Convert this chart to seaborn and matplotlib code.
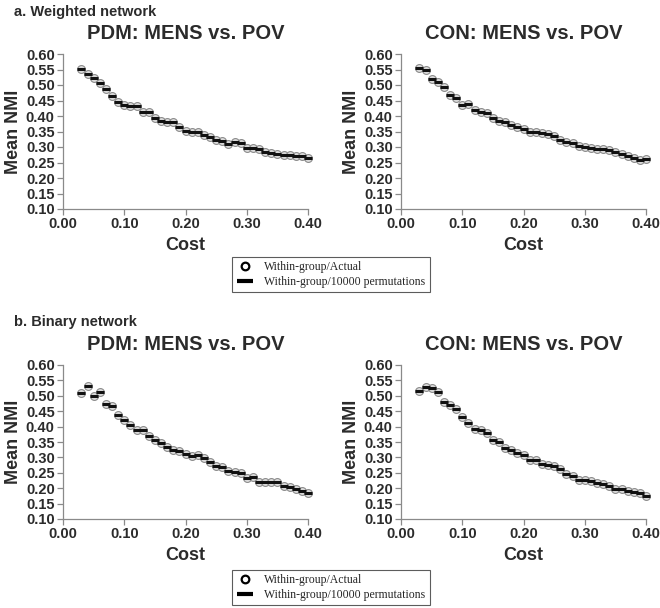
import matplotlib
matplotlib.use("Agg")
import matplotlib.pyplot as plt
from matplotlib.lines import Line2D
import numpy as np
import pandas as pd
import seaborn as sns

# cost levels 0.03 .. 0.40
cost = [round(0.03 + 0.01 * i, 2) for i in range(38)]

# a. weighted network
w_pdm = [0.552, 0.534, 0.522, 0.506, 0.486, 0.466, 0.445, 0.436, 0.431, 0.433,
         0.414, 0.413, 0.392, 0.383, 0.381, 0.382, 0.365, 0.353, 0.350, 0.349,
         0.340, 0.331, 0.322, 0.318, 0.310, 0.315, 0.313, 0.298, 0.297, 0.295,
         0.285, 0.282, 0.279, 0.275, 0.274, 0.271, 0.270, 0.265]
w_con = [0.554, 0.549, 0.520, 0.510, 0.492, 0.467, 0.457, 0.437, 0.438, 0.419,
         0.412, 0.409, 0.395, 0.385, 0.380, 0.372, 0.366, 0.358, 0.347, 0.350,
         0.346, 0.341, 0.337, 0.324, 0.316, 0.313, 0.304, 0.300, 0.298, 0.295,
         0.293, 0.290, 0.283, 0.278, 0.270, 0.263, 0.258, 0.260]

# b. binary network
b_pdm = [0.509, 0.532, 0.498, 0.512, 0.475, 0.466, 0.437, 0.422, 0.404, 0.389,
         0.388, 0.368, 0.355, 0.348, 0.335, 0.323, 0.322, 0.312, 0.306, 0.308,
         0.297, 0.284, 0.273, 0.268, 0.257, 0.251, 0.250, 0.234, 0.235, 0.221,
         0.221, 0.221, 0.219, 0.207, 0.203, 0.198, 0.191, 0.185]
b_con = [0.515, 0.530, 0.525, 0.511, 0.481, 0.470, 0.457, 0.432, 0.412, 0.391,
         0.390, 0.378, 0.355, 0.351, 0.330, 0.323, 0.315, 0.307, 0.292, 0.292,
         0.277, 0.276, 0.273, 0.261, 0.247, 0.238, 0.228, 0.228, 0.222, 0.217,
         0.213, 0.207, 0.199, 0.197, 0.191, 0.187, 0.186, 0.175]

# permutation means sit right on top of the actual values
w_pdm_perm = list(w_pdm)
w_con_perm = list(w_con)
b_pdm_perm = list(b_pdm)
b_con_perm = list(b_con)

titles = ["PDM: MENS vs. POV", "CON: MENS vs. POV"]
yticks = [0.10, 0.15, 0.20, 0.25, 0.30, 0.35, 0.40, 0.45, 0.50, 0.55, 0.60]
xticks = [0.00, 0.10, 0.20, 0.30, 0.40]

sns.set_style("ticks")
plt.rcParams["font.family"] = ["Liberation Sans", "DejaVu Sans"]

W, H = 660, 608
fig = plt.figure(figsize=(W / 100, H / 100), dpi=100)

txt = "#2b2b2b"
spine_col = "#8a8a8a"


def px_axes(x0, y0, x1, y1):
    return fig.add_axes([x0 / W, 1 - y1 / H, (x1 - x0) / W, (y1 - y0) / H])


def panel(ax, actual, perm, title):
    df = pd.DataFrame({"Cost": cost, "actual": actual, "perm": perm})
    sns.scatterplot(data=df, x="Cost", y="actual", ax=ax, marker="o", s=32,
                    facecolor="#dedede", edgecolor="#8c8c8c", linewidth=0.8,
                    clip_on=False, zorder=3)
    sns.scatterplot(data=df, x="Cost", y="perm", ax=ax, marker="_", s=38,
                    color="#111111", linewidth=2.2, clip_on=False, zorder=4)
    ax.set_xlim(0, 0.40)
    ax.set_ylim(0.10, 0.60)
    ax.set_xticks(xticks)
    ax.set_yticks(yticks)
    ax.set_xticklabels([f"{v:.2f}" for v in xticks], fontsize=10.5,
                       fontweight="bold", color=txt)
    ax.set_yticklabels([f"{v:.2f}" for v in yticks], fontsize=10.5,
                       fontweight="bold", color=txt)
    ax.set_xlabel("Cost", fontsize=13, fontweight="bold", color=txt, labelpad=4)
    ax.set_ylabel("Mean NMI", fontsize=13, fontweight="bold", color=txt, labelpad=3)
    ax.set_title(title, fontsize=14.5, fontweight="bold", color=txt, pad=11)
    for s in ["top", "right"]:
        ax.spines[s].set_visible(False)
    for s in ["left", "bottom"]:
        ax.spines[s].set_color(spine_col)
        ax.spines[s].set_linewidth(0.9)
    ax.tick_params(axis="both", length=4, width=0.9, color=spine_col, pad=2)


ax1 = px_axes(63, 54, 308, 209)
ax2 = px_axes(401, 54, 646, 209)
ax3 = px_axes(63, 365, 308, 519)
ax4 = px_axes(401, 365, 646, 519)

panel(ax1, w_pdm, w_pdm_perm, titles[0])
panel(ax2, w_con, w_con_perm, titles[1])
panel(ax3, b_pdm, b_pdm_perm, titles[0])
panel(ax4, b_con, b_con_perm, titles[1])

fig.text(14 / W, 1 - 12 / H, "a. Weighted network", fontsize=10.5,
         fontweight="bold", color=txt, va="center", ha="left")
fig.text(14 / W, 1 - 322 / H, "b. Binary network", fontsize=10.5,
         fontweight="bold", color=txt, va="center", ha="left")

handles = [
    Line2D([], [], marker="o", linestyle="none", markersize=5.5,
           markerfacecolor="white", markeredgecolor="black", markeredgewidth=1.6),
    Line2D([], [], marker="_", linestyle="none", markersize=11,
           color="black", markeredgewidth=3),
]
labels = ["Within-group/Actual", "Within-group/10000 permutations"]

for top in (257, 570):
    leg = fig.legend(handles, labels, loc="upper left",
                     bbox_to_anchor=(232 / W, 1 - top / H),
                     prop={"family": "Liberation Serif", "size": 8.5},
                     frameon=True, fancybox=False, edgecolor="#333333",
                     handlelength=1.5, handletextpad=0.9, borderpad=0.35,
                     labelspacing=0.25, borderaxespad=0)
    leg.get_frame().set_linewidth(0.8)

fig.savefig("out.png", dpi=100)
